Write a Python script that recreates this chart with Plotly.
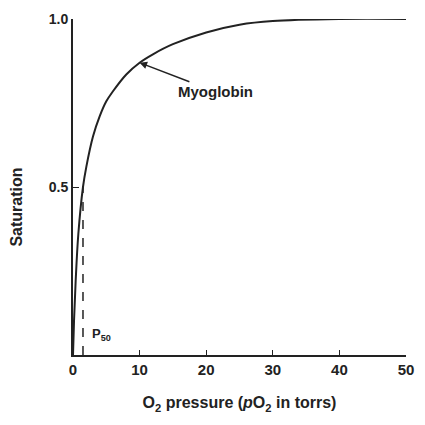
import plotly.graph_objects as go

# Myoglobin O2 saturation curve
pressure = [0, 0.15, 0.4, 0.8, 1.5, 2, 3, 4, 5, 6, 8, 10, 12, 15, 20, 25, 30, 40, 50]
saturation = [0, 0.1, 0.22, 0.36, 0.5, 0.56, 0.65, 0.71, 0.755, 0.785, 0.835, 0.87,
              0.895, 0.925, 0.96, 0.983, 0.994, 1.0, 1.0]

p50_x = [1.5, 1.5]
p50_y = [0, 0.5]

x_ticks = [0, 10, 20, 30, 40, 50]
y_ticks = [0.5, 1.0]
y_ticktext = ["0.5", "1.0"]

ink = "#222222"
bold = dict(family="Liberation Sans, Arial, sans-serif", color=ink, weight="bold")

fig = go.Figure()
fig.add_trace(go.Scatter(x=pressure, y=saturation, mode="lines",
                         line=dict(color=ink, width=2, shape="spline", smoothing=1.0),
                         cliponaxis=False, hoverinfo="skip"))
fig.add_trace(go.Scatter(x=p50_x, y=p50_y, mode="lines",
                         line=dict(color=ink, width=1.5, dash="dash"),
                         hoverinfo="skip"))

fig.add_annotation(x=2.6, y=0.03, text="P<sub>50</sub>", showarrow=False,
                   xanchor="left", yanchor="bottom",
                   font=dict(size=13, **bold))
fig.add_annotation(x=10, y=0.87, text="Myoglobin", showarrow=True,
                   ax=76, ay=29, arrowhead=2, arrowsize=1,
                   arrowwidth=1.5, arrowcolor=ink,
                   font=dict(size=15, **bold))
fig.add_annotation(x=-0.17, y=0.44, xref="paper", yref="paper",
                   text="Saturation", textangle=-90, showarrow=False,
                   xanchor="center", yanchor="middle",
                   font=dict(size=16, **bold))

fig.update_layout(
    width=425, height=425,
    margin=dict(l=73, r=11, t=15, b=70),
    paper_bgcolor="white", plot_bgcolor="white",
    showlegend=False,
    font=dict(size=14, **bold),
    xaxis=dict(range=[0, 50], tickvals=x_ticks, showgrid=False, zeroline=False,
               showline=True, linecolor=ink, linewidth=2,
               ticks="inside", ticklen=5, tickcolor=ink,
               tickfont=dict(size=15, **bold),
               title=dict(text="O<sub>2</sub> pressure (<i>p</i>O<sub>2</sub> in torrs)",
                          standoff=20, font=dict(size=16, **bold))),
    yaxis=dict(range=[0, 1.0], tickvals=y_ticks, ticktext=y_ticktext,
               showgrid=False, zeroline=False,
               showline=True, linecolor=ink, linewidth=2,
               ticks="inside", ticklen=6, tickcolor=ink,
               tickfont=dict(size=14, **bold)),
)

fig.write_html("out.html")
